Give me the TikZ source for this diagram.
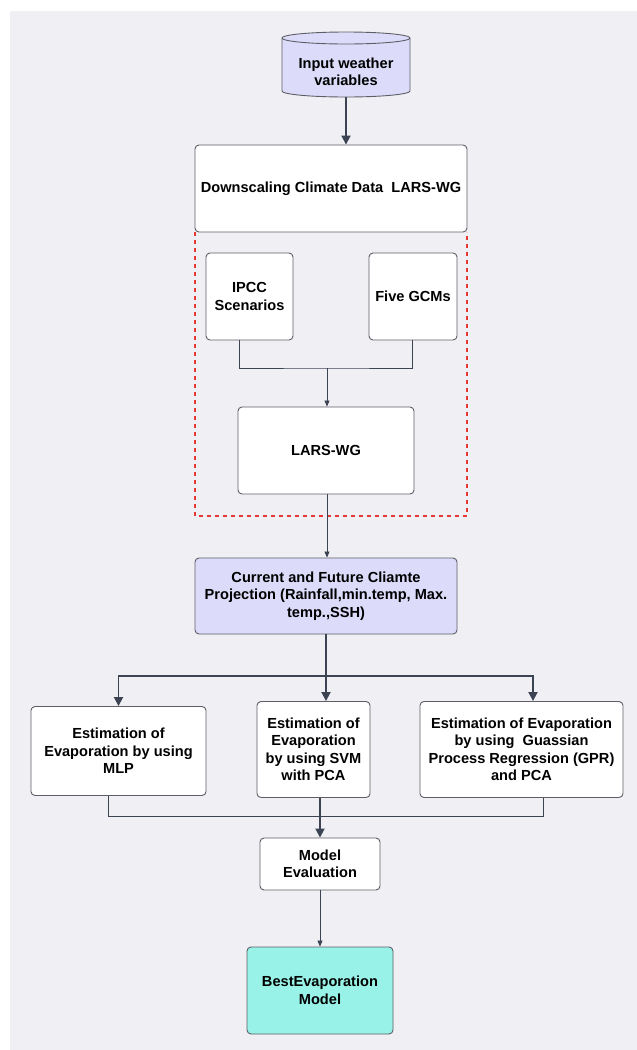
\documentclass[tikz,border=0pt]{standalone}
\usepackage{fontspec}
\setmainfont{Liberation Sans}
\usetikzlibrary{arrows.meta,calc}
\definecolor{bgc}{HTML}{EFEFF4}
\definecolor{edgec}{HTML}{5E5E66}
\definecolor{linec}{HTML}{3C4454}
\definecolor{lav}{HTML}{DCDCFA}
\definecolor{turq}{HTML}{98F2E8}
\definecolor{redd}{HTML}{E53935}
\tikzset{
  txt/.style={font=\fontsize{14.6}{17.5}\selectfont\bfseries},
  box/.style={draw=edgec, line width=0.9pt, fill=white, rounded corners=4pt,
    inner sep=0pt, align=center, txt},
  thick line/.style={draw=linec, line width=1.8pt},
  thin line/.style={draw=linec, line width=0.8pt},
  bigarrow/.style={thick line, -{Triangle[length=9pt,width=9pt]}},
  smallarrow/.style={thin line, -{Triangle[length=6pt,width=5pt]}},
}
\begin{document}
\begin{tikzpicture}[x=1pt,y=-1pt]
\useasboundingbox (0,0) rectangle (637,1050);
\fill[white] (0,0) rectangle (637,1050);
\fill[bgc] (10,11) rectangle (637,1050);
% cylinder
\filldraw[fill=lav, draw=edgec, line width=0.9pt]
  (282,38) -- (282,91) arc[start angle=180,end angle=0,x radius=64,y radius=6]
  -- (410,38) arc[start angle=0,end angle=-180,x radius=64,y radius=6] -- cycle;
\draw[edgec, line width=0.9pt] (282,38) arc[start angle=180,end angle=0,x radius=64,y radius=6];
\node[inner sep=0pt, minimum width=128pt, minimum height=50pt, align=center, txt]
  (inp) at (346,72) {Input weather\\variables};
% boxes
\node[box, minimum width=272pt, minimum height=87pt] (down) at (331,188.5) {Downscaling Climate Data\ \ LARS-WG};
\draw[redd, line width=1.2pt, dash pattern=on 4pt off 4pt] (195,232) -- (195,516) -- (467,516) -- (467,232);
\node[box, minimum width=87pt, minimum height=87pt] (ipcc) at (249.5,296.5) {IPCC\\Scenarios};
\node[box, minimum width=88pt, minimum height=87pt] (gcm) at (413,296.5) {Five GCMs};
\node[box, minimum width=176pt, minimum height=87pt] (lars) at (326,450.5) {LARS-WG};
\node[box, fill=lav, minimum width=262pt, minimum height=76pt] (cur) at (326,596)
  {Current and Future Cliamte\\Projection (Rainfall,min.temp, Max.\\temp.,SSH)};
\node[box, minimum width=175pt, minimum height=89pt] (mlp) at (118.5,751) {Estimation of\\Evaporation by using\\MLP};
\node[box, minimum width=113pt, minimum height=96pt] (svm) at (313.5,749.5) {Estimation of\\Evaporation\\by using SVM\\with PCA};
\node[box, minimum width=203pt, minimum height=96pt] (gpr) at (521.5,749.5) {Estimation of Evaporation\\by using\ \ Guassian\\Process Regression (GPR)\\and PCA};
\node[box, minimum width=120pt, minimum height=52pt] (eval) at (320,864) {Model\\Evaluation};
\node[box, fill=turq, minimum width=146pt, minimum height=87pt] (best) at (320,990.5) {BestEvaporation\\Model};
% connectors
\draw[bigarrow] (inp.south) -- (inp.south |- down.north);
\coordinate (j1) at (327,368);
\draw[thin line] ($(ipcc.south)+(-10,0)$) |- (j1) -| ($(gcm.south)+(-1,0)$);
\draw[smallarrow] (j1) -- (j1 |- lars.north);
\draw[smallarrow] ($(lars.south)+(1,0)$) -- ($(cur.north)+(1,0)$);
\coordinate (j2) at (326,676);
\draw[thick line] (cur.south) -- (j2);
\draw[bigarrow] (j2) -- (j2 |- svm.north);
\draw[bigarrow] (j2) -| (mlp.north);
\draw[bigarrow] (j2) -| ($(gpr.north)+(11.5,0)$);
\coordinate (j3) at (320,816);
\draw[thin line] ($(mlp.south)+(-10.5,0)$) |- (j3) -| ($(gpr.south)+(21.5,0)$);
\draw[bigarrow] (j3 |- svm.south) -- (eval.north);
\draw[smallarrow] (eval.south) -- (best.north);
\end{tikzpicture}
\end{document}
